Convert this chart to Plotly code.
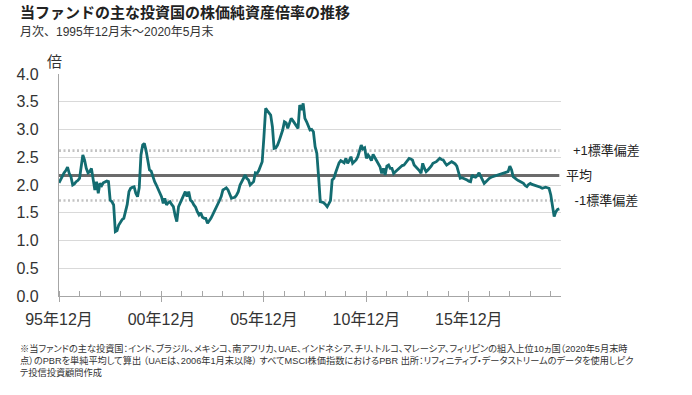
import pandas as pd
import plotly.graph_objects as go

# Monthly PBR values, 1995-12 .. 2020-05
pbr_1995 = [2.04]
pbr_1996 = [2.10, 2.18, 2.22, 2.26, 2.32, 2.21, 2.15, 2.00, 2.02, 2.06, 2.08, 2.12]
pbr_1997 = [2.30, 2.54, 2.45, 2.30, 2.22, 2.24, 2.30, 2.10, 1.91, 2.06, 1.85, 2.03]
pbr_1998 = [1.99, 2.04, 2.05, 2.07, 2.06, 1.73, 1.70, 1.64, 1.16, 1.18, 1.28, 1.34]
pbr_1999 = [1.38, 1.40, 1.52, 1.65, 1.88, 1.94, 1.96, 1.97, 1.85, 1.79, 1.95, 2.54]
pbr_2000 = [2.72, 2.75, 2.62, 2.45, 2.27, 2.25, 2.15, 2.06, 2.00, 1.94, 1.86, 1.79]
pbr_2001 = [1.67, 1.76, 1.64, 1.68, 1.70, 1.65, 1.61, 1.45, 1.34, 1.61, 1.68, 1.73]
pbr_2002 = [1.82, 1.88, 1.79, 1.88, 1.73, 1.70, 1.64, 1.60, 1.52, 1.46, 1.50, 1.42]
pbr_2003 = [1.40, 1.40, 1.31, 1.35, 1.40, 1.46, 1.52, 1.58, 1.64, 1.72, 1.79, 1.91]
pbr_2004 = [1.93, 1.95, 1.91, 1.85, 1.76, 1.77, 1.78, 1.82, 1.88, 2.00, 2.06, 2.12]
pbr_2005 = [2.18, 2.12, 2.09, 2.00, 2.03, 2.06, 2.22, 2.21, 2.26, 2.33, 2.42, 2.87]
pbr_2006 = [3.38, 3.34, 3.30, 3.26, 3.05, 2.66, 2.67, 2.72, 2.80, 2.88, 2.99, 3.14]
pbr_2007 = [3.12, 3.02, 3.10, 3.20, 3.16, 3.12, 3.08, 3.02, 3.44, 3.35, 3.47, 3.20]
pbr_2008 = [3.14, 3.05, 2.99, 3.00, 2.96, 2.69, 2.57, 2.15, 1.70, 1.69, 1.68, 1.65]
pbr_2009 = [1.61, 1.66, 1.72, 2.09, 2.12, 2.22, 2.33, 2.40, 2.44, 2.42, 2.40, 2.48]
pbr_2010 = [2.39, 2.44, 2.51, 2.39, 2.42, 2.45, 2.51, 2.63, 2.72, 2.65, 2.67, 2.48]
pbr_2011 = [2.54, 2.50, 2.44, 2.55, 2.50, 2.45, 2.40, 2.33, 2.21, 2.30, 2.18, 2.34]
pbr_2012 = [2.36, 2.30, 2.30, 2.21, 2.24, 2.27, 2.30, 2.33, 2.35, 2.36, 2.40, 2.45]
pbr_2013 = [2.48, 2.47, 2.45, 2.36, 2.33, 2.30, 2.26, 2.21, 2.39, 2.30, 2.24, 2.27]
pbr_2014 = [2.30, 2.34, 2.39, 2.40, 2.42, 2.45, 2.48, 2.46, 2.45, 2.40, 2.36, 2.38]
pbr_2015 = [2.40, 2.42, 2.40, 2.38, 2.34, 2.21, 2.12, 2.13, 2.12, 2.10, 2.09, 2.07]
pbr_2016 = [2.06, 2.18, 2.15, 2.14, 2.17, 2.22, 2.16, 2.10, 2.03, 2.06, 2.10, 2.12]
pbr_2017 = [2.14, 2.15, 2.16, 2.17, 2.18, 2.19, 2.21, 2.22, 2.22, 2.23, 2.24, 2.34]
pbr_2018 = [2.27, 2.15, 2.12, 2.10, 2.08, 2.06, 2.04, 2.03, 1.99, 1.97, 2.01, 2.03]
pbr_2019 = [2.01, 2.00, 1.99, 1.99, 1.97, 1.96, 1.94, 1.95, 1.96, 1.95, 1.94, 1.82]
pbr_2020 = [1.58, 1.43, 1.52, 1.56, 1.57]

pbr = (pbr_1995 + pbr_1996 + pbr_1997 + pbr_1998 + pbr_1999 + pbr_2000 + pbr_2001
       + pbr_2002 + pbr_2003 + pbr_2004 + pbr_2005 + pbr_2006 + pbr_2007 + pbr_2008
       + pbr_2009 + pbr_2010 + pbr_2011 + pbr_2012 + pbr_2013 + pbr_2014 + pbr_2015
       + pbr_2016 + pbr_2017 + pbr_2018 + pbr_2019 + pbr_2020)

mean_value = 2.17
plus1_value = 2.62
minus1_value = 1.72

tick_dates = ["1995-12-31", "2000-12-31", "2005-12-31", "2010-12-31", "2015-12-31"]
tick_labels = ["95年12月", "00年12月", "05年12月", "10年12月", "15年12月"]
ref_labels = ["+1標準偏差", "平均", " -1標準偏差"]

dates = pd.date_range("1995-12-31", periods=len(pbr), freq="ME")
span = [dates[0], dates[-1]]

FONT = "Liberation Sans, Noto Sans CJK JP, sans-serif"
TEAL = "#136c71"

fig = go.Figure()
fig.add_trace(go.Scatter(x=span, y=[plus1_value] * 2, mode="lines",
                         line=dict(color="#c3c3c3", width=2.6, dash="2px,2.5px"),
                         hoverinfo="skip"))
fig.add_trace(go.Scatter(x=span, y=[minus1_value] * 2, mode="lines",
                         line=dict(color="#c3c3c3", width=2.6, dash="2px,2.5px"),
                         hoverinfo="skip"))
fig.add_trace(go.Scatter(x=span, y=[mean_value] * 2, mode="lines",
                         line=dict(color="#6b6b6b", width=3), hoverinfo="skip"))
fig.add_trace(go.Scatter(x=dates, y=pbr, mode="lines",
                         line=dict(color=TEAL, width=2.8)))

fig.update_layout(
    width=692, height=395,
    margin=dict(l=59, r=131, t=74, b=99, autoexpand=False),
    paper_bgcolor="white", plot_bgcolor="white",
    showlegend=False,
    font=dict(family=FONT, color="#333333"),
    xaxis=dict(
        range=["1995-12-31", "2020-06-30"],
        tickvals=tick_dates, ticktext=tick_labels,
        ticks="outside", ticklen=5, tickcolor="#a6a6a6", tickwidth=1,
        minor=dict(dtick="M12", tick0="1995-12-31", ticks="inside", ticklen=5,
                   tickcolor="#a6a6a6", showgrid=False),
        showline=True, linecolor="#a6a6a6", linewidth=1.2,
        showgrid=False, zeroline=False, automargin=False,
        tickfont=dict(size=16, color="#333333"),
        ticklabelstandoff=4,
    ),
    yaxis=dict(
        range=[0, 4], dtick=0.5, tickformat=".1f",
        showgrid=True, gridcolor="#d9d9d9", gridwidth=1,
        showline=True, linecolor="#a6a6a6", linewidth=1.2,
        zeroline=False, ticks="", automargin=False,
        tickfont=dict(size=16, color="#333333"),
        ticklabelstandoff=16,
    ),
)

PW, PH = 502.0, 222.0
# title and subtitle
fig.add_annotation(text="<b>当ファンドの主な投資国の株価純資産倍率の推移</b>",
                   xref="paper", yref="paper", x=-41 / PW, y=1 + 61 / PH,
                   xanchor="left", yanchor="middle", showarrow=False,
                   font=dict(size=15, color="#222222", family=FONT))
fig.add_annotation(text="月次、1995年12月末～2020年5月末",
                   xref="paper", yref="paper", x=-41 / PW, y=1 + 42.5 / PH,
                   xanchor="left", yanchor="middle", showarrow=False,
                   font=dict(size=12, color="#333333", family=FONT))
# unit label
fig.add_annotation(text="倍", xref="paper", yref="paper", x=-5 / PW, y=1 + 12.5 / PH,
                   xanchor="center", yanchor="middle", showarrow=False,
                   font=dict(size=15, color="#333333", family=FONT))
# reference line labels
for lbl, val, dx in zip(ref_labels, [plus1_value, mean_value, minus1_value], [10, 3, 8]):
    fig.add_annotation(text=lbl, xref="paper", yref="y", x=1 + dx / PW, y=val,
                       xanchor="left", yanchor="middle", showarrow=False,
                       font=dict(size=13, color="#222222", family=FONT))
# footnote
note = ("※当ファンドの主な投資国：インド、ブラジル、メキシコ、南アフリカ、UAE、インドネシア、チリ、トルコ、マレーシア、フィリピンの組入上位10ヵ国（2020年5月末時<br>"
        "点）のPBRを単純平均して算出 （UAEは、2006年1月末以降） すべてMSCI株価指数におけるPBR 出所：リフィニティブ・データストリームのデータを使用しピク<br>"
        "テ投信投資顧問作成")
fig.add_annotation(text=note, xref="paper", yref="paper", x=-41 / PW, y=-(341 - 296) / PH,
                   xanchor="left", yanchor="top", align="left", showarrow=False,
                   font=dict(size=9.2, color="#333333", family=FONT))

post = """
document.body.style.margin = '0';
document.querySelectorAll('.annotation-text').forEach(function(t){
  if (t.textContent.indexOf('※') === 0) { t.style.fontFeatureSettings = '"palt"'; }
});
"""
fig.write_html("out.html", post_script=post, config={"displayModeBar": False})
